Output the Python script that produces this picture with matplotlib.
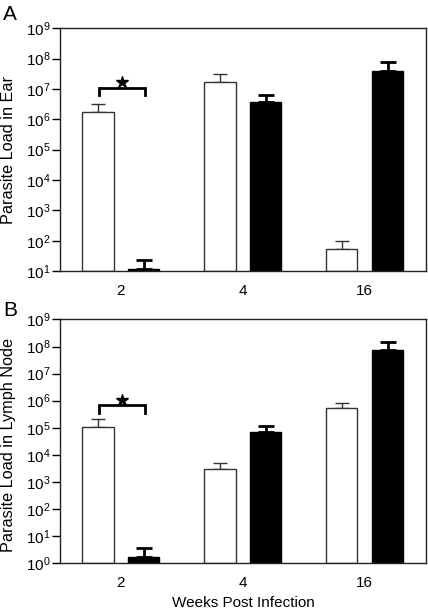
import matplotlib
matplotlib.use("Agg")
import matplotlib.pyplot as plt
import numpy as np

plt.rcParams['font.family'] = ['Liberation Sans', 'DejaVu Sans']
plt.rcParams['mathtext.fontset'] = 'custom'
plt.rcParams['mathtext.rm'] = 'Liberation Sans'

weeks = ['2', '4', '16']

# panel A: ear
ear_white = [1.7e6, 1.65e7, 53]
ear_white_err = [3.2e6, 3.1e7, 95]
ear_black = [12, 3.6e6, 3.8e7]
ear_black_err = [24, 6.5e6, 7.5e7]

# panel B: lymph node
ln_white = [1.05e5, 3.1e3, 5.2e5]
ln_white_err = [2.05e5, 5.0e3, 8.5e5]
ln_black = [1.66, 7.2e4, 7.6e7]
ln_black_err = [3.5, 1.13e5, 1.47e8]

# significance bracket (week 2): bracket level, leg bottom
sig_A = [1.07e7, 6.4e6]
sig_B = [6.8e5, 3.6e5]

fig = plt.figure(figsize=(4.28, 6.12), dpi=100)
ax1 = fig.add_axes([0.140, 0.557, 0.855, 0.397])
ax2 = fig.add_axes([0.140, 0.080, 0.855, 0.398])

w = 0.255
off = 0.188


def panel(ax, white, white_err, black, black_err, ymin, sig, ylabel, ly):
    x = np.arange(len(weeks))
    ax.set_yscale('log')
    ax.bar(x - off, np.array(white) - ymin, w, bottom=ymin, color='white',
           edgecolor='#333333', linewidth=1, zorder=2)
    ax.bar(x + off, np.array(black) - ymin, w, bottom=ymin, color='black',
           edgecolor='black', linewidth=1, zorder=2)
    wv = np.array(white)
    bv = np.array(black)
    ax.errorbar(x - off, wv, yerr=[np.zeros(3), np.array(white_err) - wv],
                fmt='none', ecolor='#333333', elinewidth=1, capsize=5,
                capthick=1, zorder=1)
    ax.errorbar(x + off, bv, yerr=[np.zeros(3), np.array(black_err) - bv],
                fmt='none', ecolor='black', elinewidth=2, capsize=6,
                capthick=2, zorder=1)
    # bracket
    ax.plot([-off + 0.01, -off + 0.01, off + 0.01, off + 0.01],
            [sig[1], sig[0], sig[0], sig[1]], color='black', lw=2,
            solid_joinstyle='miter')
    ax.plot([0.01], [sig[0] * 1.55], marker='*', color='black',
            markersize=9, linestyle='none')
    ax.set_xlim(-0.5, 2.5)
    ax.set_ylim(ymin, 1e9)
    ax.set_xticks(x)
    ax.set_xticklabels(weeks)
    ax.set_yticks([10.0 ** k for k in range(int(np.log10(ymin)), 10)])
    ax.yaxis.set_minor_locator(matplotlib.ticker.NullLocator())
    ax.tick_params(axis='x', length=0, pad=9, labelsize=11)
    ax.tick_params(axis='y', length=6, width=1, direction='out', pad=1,
                   labelsize=11)
    for s in ax.spines.values():
        s.set_color('#222222')
        s.set_linewidth(1)
    ax.set_ylabel(ylabel, fontsize=11.7)
    ax.yaxis.set_label_coords(-0.12, ly)


panel(ax1, ear_white, ear_white_err, ear_black, ear_black_err, 10,
      sig_A, 'Parasite Load in Ear', 0.5)
panel(ax2, ln_white, ln_white_err, ln_black, ln_black_err, 1,
      sig_B, 'Parasite Load in Lymph Node', 0.485)

ax2.set_xlabel('Weeks Post Infection', fontsize=11, labelpad=5)

fig.text(0.024, 0.977, 'A', fontsize=15, va='center', ha='center')
fig.text(0.024, 0.493, 'B', fontsize=15, va='center', ha='center')

fig.savefig('out.png', dpi=100)
